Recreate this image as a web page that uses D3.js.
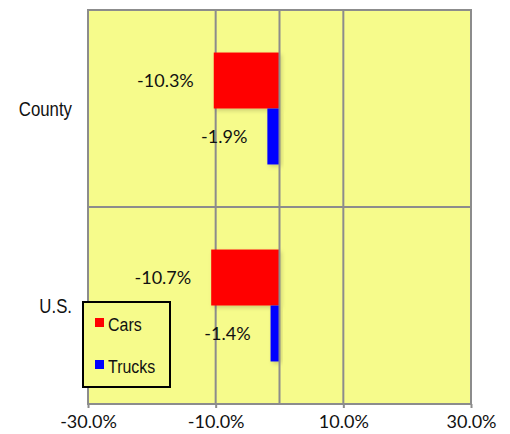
<html>
<head>
<style>
  body { margin: 0; background: #fff; font-family: Lato, "Open Sans", sans-serif; }
  .cat, .leg { font-family: "Liberation Sans", Arial, sans-serif; }
</style>
</head>
<body>
<div id="chart-holder"></div>
<script src="https://d3js.org/d3.v7.min.js"></script>
<script>
var categories = ['County', 'U.S.'];
var seriesNames = ['Cars', 'Trucks'];
var cars = [-0.103, -0.107];
var trucks = [-0.019, -0.014];
var tickValues = [-0.3, -0.1, 0.1, 0.3];

var colors = {Cars: '#ff0000', Trucks: '#0000ff'};

var width = 510, height = 434;
var margin = {top: 10, right: 39, bottom: 30, left: 88};
var innerWidth = width - margin.left - margin.right;
var innerHeight = height - margin.top - margin.bottom;
var narrow = 0.84; // fake a condensed face

var svg = d3.select('#chart-holder').append('svg')
  .attr('width', width).attr('height', height);

var defs = svg.append('defs');
var f = defs.append('filter').attr('id', 'shadow')
  .attr('x', '-20%').attr('y', '-20%').attr('width', '150%').attr('height', '150%');
f.append('feDropShadow').attr('dx', 2).attr('dy', 2).attr('stdDeviation', 2)
  .attr('flood-color', '#000').attr('flood-opacity', 0.18);

var g = svg.append('g').attr('transform', 'translate(' + margin.left + ',' + margin.top + ')');

var x = d3.scaleLinear().domain([-0.3, 0.3]).range([0, innerWidth]);
var y0 = d3.scaleBand().domain(categories).range([0, innerHeight]);
var y1 = d3.scaleBand().domain(seriesNames).range([0, y0.bandwidth()])
  .paddingInner(0).paddingOuter(0.76);

var rows = categories.map(function(c, i) {
  return {cat: c, values: [{name: 'Cars', v: cars[i]}, {name: 'Trucks', v: trucks[i]}]};
});

// plot background
g.append('rect').attr('width', innerWidth).attr('height', innerHeight)
  .attr('fill', '#f6fb8b');

// vertical gridlines
g.selectAll('.vgrid').data(tickValues).enter().append('line')
  .attr('x1', function(d) { return x(d); }).attr('x2', function(d) { return x(d); })
  .attr('y1', 0).attr('y2', innerHeight)
  .attr('stroke', '#8c8c8c').attr('stroke-width', 2);

// horizontal gridlines between categories
g.selectAll('.hgrid').data(categories.slice(1)).enter().append('line')
  .attr('x1', 0).attr('x2', innerWidth)
  .attr('y1', function(d) { return y0(d); }).attr('y2', function(d) { return y0(d); })
  .attr('stroke', '#8c8c8c').attr('stroke-width', 2);

// plot border
g.append('rect').attr('width', innerWidth).attr('height', innerHeight)
  .attr('fill', 'none').attr('stroke', '#8c8c8c').attr('stroke-width', 2);

// bars
var groups = g.selectAll('.grp').data(rows).enter().append('g')
  .attr('transform', function(d) { return 'translate(0,' + y0(d.cat) + ')'; });

groups.selectAll('rect').data(function(d) { return d.values; }).enter().append('rect')
  .attr('x', function(d) { return x(Math.min(0, d.v)); })
  .attr('y', function(d) { return y1(d.name); })
  .attr('width', function(d) { return Math.abs(x(d.v) - x(0)); })
  .attr('height', y1.bandwidth())
  .attr('fill', function(d) { return colors[d.name]; })
  .attr('filter', 'url(#shadow)');

groups.selectAll('text').data(function(d) { return d.values; }).enter().append('text')
  .attr('x', function(d) { return x(d.v) - 20; })
  .attr('y', function(d) { return y1(d.name) + y1.bandwidth() / 2; })
  .attr('dy', '0.36em')
  .attr('text-anchor', 'end')
  .attr('font-size', '18px')
  .attr('fill', '#111')
  .text(function(d) { return (d.v * 100).toFixed(1) + '%'; });

// zero axis line
g.append('line')
  .attr('x1', x(0)).attr('x2', x(0)).attr('y1', 0).attr('y2', innerHeight)
  .attr('stroke', '#8c8c8c').attr('stroke-width', 2);

// bottom axis
var xAxis = d3.axisBottom(x).tickValues(tickValues).tickSize(4).tickPadding(7)
  .tickFormat(function(d) { return (d * 100).toFixed(1) + '%'; });
var ax = g.append('g').attr('transform', 'translate(0,' + innerHeight + ')').call(xAxis);
ax.select('.domain').remove();
ax.selectAll('line').attr('stroke', '#8c8c8c').attr('stroke-width', 2);
ax.selectAll('text').attr('font-family', 'Lato, sans-serif').attr('font-size', '18px').attr('fill', '#111');

// category labels
g.selectAll('.cat').data(categories).enter().append('g')
  .attr('transform', function(d) {
    return 'translate(-16,' + (y0(d) + y0.bandwidth() / 2) + ') scale(' + narrow + ',1)';
  })
  .append('text')
  .attr('class', 'cat')
  .attr('dy', '0.36em')
  .attr('text-anchor', 'end')
  .attr('font-size', '20px')
  .attr('fill', '#111')
  .text(function(d) { return d; });

// legend
var legend = svg.append('g').attr('transform', 'translate(83,302)');
legend.append('rect').attr('width', 87).attr('height', 85)
  .attr('fill', '#f6fb8b').attr('stroke', '#000').attr('stroke-width', 2);
var le = legend.selectAll('.le').data(seriesNames).enter().append('g')
  .attr('transform', function(d, i) { return 'translate(0,' + (16 + i * 42) + ')'; });
le.append('rect').attr('x', 12).attr('width', 9).attr('height', 9)
  .attr('fill', function(d) { return colors[d]; });
le.append('g').attr('transform', 'translate(25,13) scale(' + narrow + ',1)')
  .append('text').attr('class', 'leg')
  .attr('font-size', '19px').attr('fill', '#111')
  .text(function(d) { return d; });
</script>
</body>
</html>
